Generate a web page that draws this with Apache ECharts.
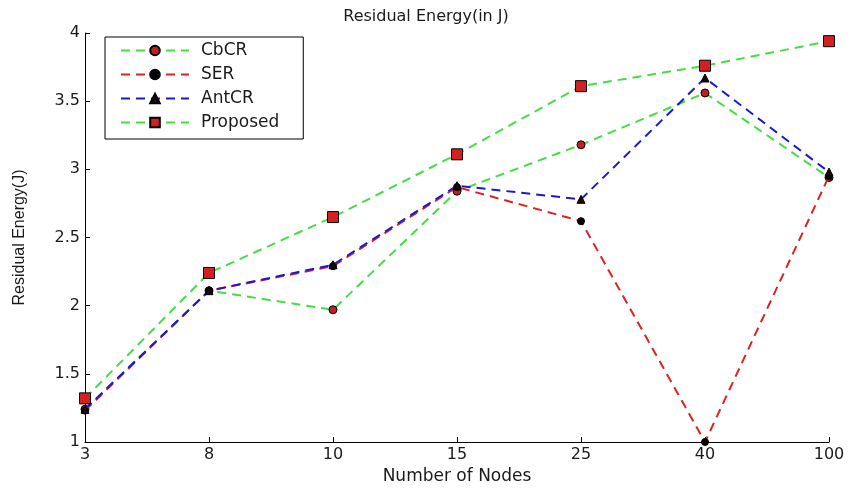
<!DOCTYPE html>
<html>
<head>
<meta charset="utf-8">
<script src="https://cdn.jsdelivr.net/npm/echarts@6/dist/echarts.min.js"></script>
<style>html,body{margin:0;padding:0;background:#fff;}#c{width:852px;height:490px;}</style>
</head>
<body>
<div id="c"></div>
<script>
var categories = ['3', '8', '10', '15', '25', '40', '100'];
var cbcr = [1.24, 2.11, 1.97, 2.84, 3.18, 3.56, 2.94];
var ser = [1.23, 2.11, 2.29, 2.87, 2.62, 1.00, 2.95];
var antcr = [1.24, 2.11, 2.30, 2.88, 2.78, 3.67, 2.98];
var proposed = [1.32, 2.24, 2.65, 3.11, 3.61, 3.76, 3.94];

var WIDE = '"DejaVu Sans", Verdana, sans-serif';
var FONT = '"Liberation Sans", Arial, sans-serif';
var TXT = '#1a1a1a';
var chart = echarts.init(document.getElementById('c'), null, {renderer: 'canvas'});
function mk(name, data, color, symbol, size, fill, z) {
  return {
    name: name, type: 'line', data: data, z: z,
    symbol: symbol, symbolSize: size, showSymbol: true,
    lineStyle: {color: color, width: 2, type: [9, 6]},
    itemStyle: {color: fill, borderColor: '#000', borderWidth: 1},
    emphasis: {disabled: true}
  };
}
chart.setOption({
  animation: false,
  backgroundColor: '#fff',
  title: {
    text: 'Residual Energy(in J)', left: 'center', top: 4,
    textStyle: {fontFamily: WIDE, fontSize: 16, fontWeight: 'normal', color: TXT}
  },
  legend: {
    orient: 'vertical', left: 105, top: 37,
    backgroundColor: '#fff', borderColor: '#000', borderWidth: 1,
    padding: [5, 24, 8, 15], itemGap: 7, itemWidth: 68, itemHeight: 12,
    textStyle: {fontFamily: WIDE, fontSize: 17, color: TXT, padding: [0, 0, 0, 7]},
    data: ['CbCR', 'SER', 'AntCR', 'Proposed']
  },
  grid: {left: 85, right: 23, top: 33, bottom: 46},
  xAxis: {
    type: 'category', data: categories, boundaryGap: false,
    name: 'Number of Nodes', nameLocation: 'middle', nameGap: 26,
    nameTextStyle: {fontFamily: WIDE, fontSize: 17, color: TXT},
    axisLine: {lineStyle: {color: '#000', width: 1}},
    axisTick: {inside: true, length: 5, lineStyle: {color: '#000'}},
    axisLabel: {fontFamily: WIDE, fontSize: 16, color: TXT, margin: 5},
    splitLine: {show: false}
  },
  yAxis: {
    type: 'value', min: 1, max: 4, interval: 0.5,
    name: 'Residual Energy(J)', nameLocation: 'middle', nameGap: 57,
    nameTextStyle: {fontFamily: FONT, fontSize: 16, color: TXT},
    axisLine: {show: true, lineStyle: {color: '#000', width: 1}},
    axisTick: {show: true, inside: true, length: 5, lineStyle: {color: '#000'}},
    axisLabel: {fontFamily: WIDE, fontSize: 16, color: TXT, margin: 5},
    splitLine: {show: false}
  },
  series: [
    mk('CbCR', cbcr, '#44dd44', 'circle', 8, '#c02020', 2),
    mk('SER', ser, '#dd2222', 'circle', 7, '#000', 3),
    mk('AntCR', antcr, '#1a1acc', 'triangle', 8, '#1a0a0a', 4),
    mk('Proposed', proposed, '#44dd44', 'rect', 11, '#d42020', 5)
  ]
});
</script>
</body>
</html>
